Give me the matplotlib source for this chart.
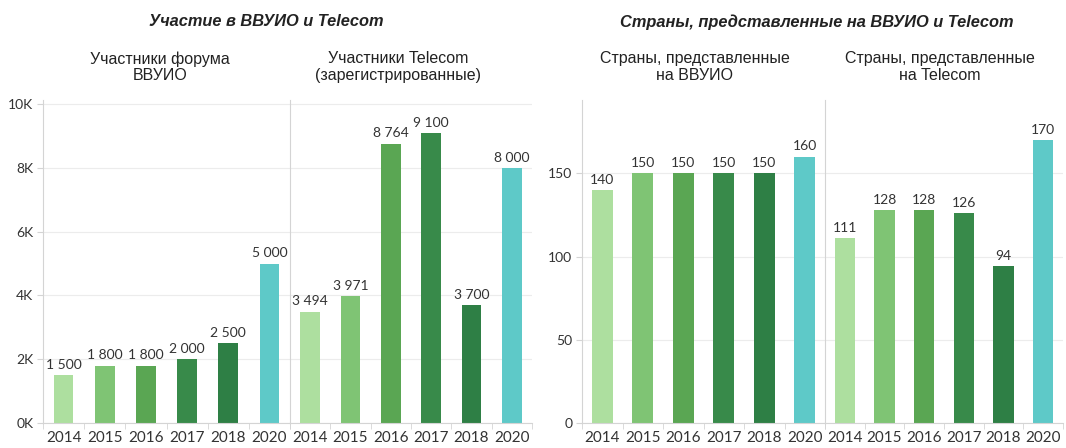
import matplotlib.pyplot as plt
from matplotlib.ticker import FixedLocator, NullFormatter

years = ["2014", "2015", "2016", "2017", "2018", "2020"]
colors = ["#addf9f", "#7fc474", "#5aa653", "#388a4a", "#2e7f45", "#5ec9c8"]

forum_participants = [1500, 1800, 1800, 2000, 2500, 5000]
telecom_participants = [3494, 3971, 8764, 9100, 3700, 8000]
forum_countries = [140, 150, 150, 150, 150, 160]
telecom_countries = [111, 128, 128, 126, 94, 170]

title_left = "Участие в ВВУИО и Telecom"
title_right = "Страны, представленные на ВВУИО и Telecom"
subtitles = [
    "Участники форума\nВВУИО",
    "Участники Telecom\n(зарегистрированные)",
    "Страны, представленные\nна ВВУИО",
    "Страны, представленные\nна Telecom",
]

W, H = 1066, 448
GRID = "#ececec"
SPINE = "#d4d4d4"
TEXT = "#333333"
NUM_FONT = ["Lato", "DejaVu Sans"]
TITLE_FONT = ["Liberation Sans", "DejaVu Sans"]


def px_axes(fig, x0, x1, y_top, y_bot):
    return fig.add_axes([x0 / W, (H - y_bot) / H, (x1 - x0) / W, (y_bot - y_top) / H])


def draw_panel(ax, values, ymax, yticks, ylabels, width):
    x = list(range(len(years)))
    bars = ax.bar(x, values, width=width, color=colors, zorder=2)
    ax.set_xlim(-0.5, len(years) - 0.5)
    ax.set_ylim(0, ymax)
    ax.set_yticks(yticks)
    ax.yaxis.grid(True, color=GRID, linewidth=0.8, zorder=0)
    ax.set_axisbelow(True)

    # year labels at centers, small tick marks at category borders
    ax.set_xticks(x)
    ax.set_xticklabels(years, fontsize=11, color=TEXT, family=NUM_FONT)
    ax.tick_params(axis="x", length=0, pad=6)
    ax.xaxis.set_minor_locator(FixedLocator([i - 0.5 for i in range(len(years) + 1)]))
    ax.xaxis.set_minor_formatter(NullFormatter())
    ax.tick_params(axis="x", which="minor", length=4, color=SPINE)

    if ylabels is None:
        ax.tick_params(axis="y", length=0, labelleft=False)
    else:
        ax.set_yticklabels(ylabels, fontsize=10, color=TEXT, family=NUM_FONT)
        ax.tick_params(axis="y", length=4, color=SPINE, pad=3)

    for s in ["top", "right"]:
        ax.spines[s].set_visible(False)
    ax.spines["left"].set_color(SPINE)
    ax.spines["bottom"].set_color(SPINE)

    for b, v in zip(bars, values):
        ax.annotate(f"{v:,}".replace(",", " "),
                    (b.get_x() + b.get_width() / 2, v),
                    xytext=(0, 3), textcoords="offset points",
                    ha="center", va="bottom", fontsize=10, color=TEXT,
                    family=NUM_FONT, annotation_clip=False)


fig = plt.figure(figsize=(W / 100, H / 100), dpi=100)

ax1 = px_axes(fig, 43, 290, 100, 423)
ax2 = px_axes(fig, 290, 532, 100, 423)
ax3 = px_axes(fig, 582, 825, 100, 423)
ax4 = px_axes(fig, 825, 1063, 100, 423)

k_ticks = [0, 2000, 4000, 6000, 8000, 10000]
k_labels = [f"{t // 1000}K" for t in k_ticks]
c_ticks = [0, 50, 100, 150]

draw_panel(ax1, forum_participants, 10130, k_ticks, k_labels, 0.48)
draw_panel(ax2, telecom_participants, 10130, k_ticks, None, 0.48)
draw_panel(ax3, forum_countries, 194, c_ticks, [str(t) for t in c_ticks], 0.52)
draw_panel(ax4, telecom_countries, 194, c_ticks, None, 0.52)

fig.text(266 / W, 1 - 22 / H, title_left, ha="center", va="center",
         fontsize=11.8, fontweight="bold", fontstyle="italic", color="#222222", family=TITLE_FONT)
fig.text(817 / W, 1 - 22 / H, title_right, ha="center", va="center",
         fontsize=11.8, fontweight="bold", fontstyle="italic", color="#222222", family=TITLE_FONT)

for cx, txt in zip([160, 398, 695, 940], subtitles):
    fig.text(cx / W, 1 - 67 / H, txt, ha="center", va="center", fontsize=11.5,
             color="#222222", family=TITLE_FONT, linespacing=1.1)

plt.savefig("out.png", dpi=100)
